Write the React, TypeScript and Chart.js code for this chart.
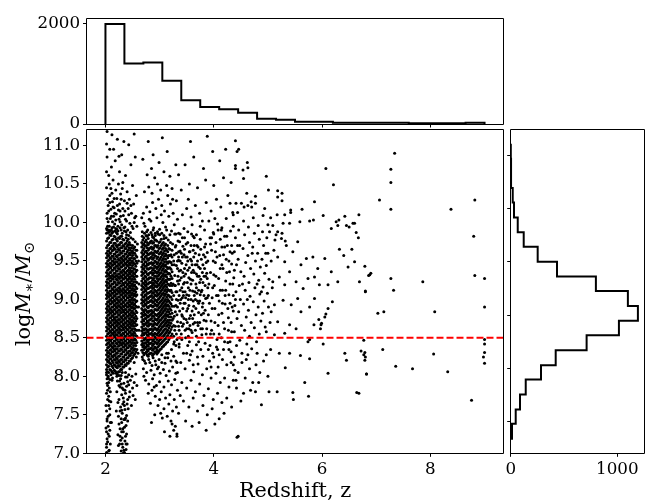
import React, { useEffect, useRef } from "react";
import { Chart, registerables } from "chart.js";
Chart.register(...registerables);

const FONT = "'DejaVu Serif', 'Liberation Serif', serif";

// ---------- axis settings ----------
const zLimits = [1.65, 9.35];
const massLimits = [7.0, 11.21];
const zTicks = [2, 4, 6, 8];
const massTicks = [7.0, 7.5, 8.0, 8.5, 9.0, 9.5, 10.0, 10.5, 11.0];
const massCut = 8.5;

// ---------- top histogram (redshift) ----------
const zHistEdges = [2.0, 2.35, 2.7, 3.05, 3.4, 3.75, 4.1, 4.45, 4.8, 5.15, 5.5, 5.85, 6.2, 6.55, 6.9, 7.25, 7.6, 7.95, 8.3, 8.65, 9.0];
const zHistCounts = [1990, 1205, 1225, 860, 470, 338, 292, 225, 106, 86, 46, 46, 26, 26, 26, 26, 13, 13, 13, 26];
const zHistTicks = [0, 2000];
const zHistMax = 2090;

// ---------- right histogram ----------
const rightHistEdges = [5.68, 5.96, 6.23, 6.51, 6.79, 7.06, 7.34, 7.62, 7.89, 8.17, 8.45, 8.72, 9.0, 9.28, 9.55, 9.83, 10.11, 10.38, 10.66, 10.93, 11.21];
const rightHistCounts = [12, 47, 87, 141, 284, 422, 712, 1015, 1193, 1099, 799, 434, 253, 122, 66, 31, 19, 4, 3, 2];
const rightHistLimits = [5.407, 11.482];
const rightHistTicks = [6, 7, 8, 9, 10, 11];
const rightCountTicks = [0, 1000];
const rightCountMax = 1253;

// ---------- scatter: dense columns [z, logM list] ----------
const blob1Columns: [number, number[]][] = [
  [2.02, [8.02,8.09,8.15,8.22,8.28,8.34,8.41,8.47,8.52,8.59,8.64,8.71,8.76,8.83,8.88,8.94,9.01,9.06,9.12,9.18,9.23,9.3,9.35,9.42,9.47,9.54,9.6,9.67,9.76,9.86]],
  [2.04, [8.06,8.12,8.19,8.25,8.31,8.37,8.43,8.5,8.55,8.62,8.68,8.74,8.79,8.86,8.91,8.97,9.04,9.09,9.15,9.21,9.26,9.33,9.38,9.45,9.5,9.57,9.63,9.7,9.79]],
  [2.06, [8.05,8.13,8.2,8.26,8.31,8.38,8.44,8.49,8.56,8.62,8.67,8.73,8.8,8.85,8.91,8.97,9.03,9.08,9.15,9.21,9.27,9.32,9.39,9.44,9.51,9.57,9.63,9.71,9.8,9.9]],
  [2.08, [8.09,8.17,8.23,8.29,8.34,8.41,8.47,8.52,8.59,8.65,8.7,8.76,8.83,8.88,8.94,9.0,9.06,9.11,9.18,9.24,9.3,9.35,9.42,9.47,9.54,9.6,9.66,9.74,9.84]],
  [2.1, [8.08,8.16,8.23,8.29,8.35,8.4,8.46,8.53,8.58,8.64,8.7,8.76,8.82,8.87,8.94,8.99,9.05,9.11,9.17,9.24,9.28,9.35,9.41,9.47,9.53,9.6,9.66,9.74,9.83]],
  [2.12, [8.06,8.13,8.2,8.26,8.32,8.38,8.43,8.49,8.56,8.61,8.67,8.73,8.79,8.85,8.9,8.97,9.02,9.08,9.14,9.2,9.27,9.31,9.38,9.44,9.5,9.56,9.63,9.69,9.77,9.86]],
  [2.14, [8.04,8.11,8.18,8.25,8.32,8.37,8.43,8.5,8.55,8.61,8.67,8.73,8.78,8.84,8.9,8.96,9.02,9.08,9.13,9.2,9.26,9.31,9.38,9.45,9.5,9.56,9.64,9.7,9.78,9.88]],
  [2.16, [8.08,8.15,8.22,8.28,8.35,8.4,8.46,8.53,8.58,8.64,8.7,8.76,8.81,8.87,8.93,8.99,9.05,9.11,9.16,9.23,9.29,9.34,9.41,9.48,9.53,9.59,9.67,9.73,9.82]],
  [2.18, [8.07,8.14,8.21,8.27,8.33,8.39,8.46,8.51,8.57,8.63,8.69,8.74,8.81,8.87,8.92,8.98,9.04,9.1,9.16,9.22,9.29,9.34,9.4,9.46,9.52,9.59,9.65,9.73,9.81]],
  [2.2, [8.05,8.12,8.18,8.24,8.3,8.36,8.43,8.49,8.54,8.6,8.66,8.72,8.77,8.84,8.9,8.95,9.01,9.07,9.13,9.19,9.26,9.31,9.37,9.43,9.49,9.56,9.62,9.7,9.78,9.87]],
  [2.22, [8.03,8.11,8.17,8.23,8.3,8.36,8.42,8.48,8.54,8.6,8.66,8.71,8.77,8.83,8.89,8.95,9.0,9.07,9.12,9.19,9.25,9.3,9.37,9.43,9.49,9.55,9.62,9.68,9.76,9.85]],
  [2.24, [8.06,8.14,8.2,8.26,8.33,8.39,8.45,8.51,8.57,8.63,8.69,8.74,8.8,8.86,8.92,8.98,9.03,9.1,9.15,9.22,9.28,9.33,9.4,9.46,9.52,9.58,9.65,9.71,9.8]],
  [2.26, [8.06,8.13,8.19,8.26,8.33,8.4,8.45,8.51,8.57,8.62,8.68,8.74,8.8,8.86,8.91,8.97,9.03,9.09,9.14,9.21,9.27,9.33,9.39,9.45,9.51,9.58,9.64,9.71,9.79]],
  [2.28, [8.09,8.16,8.22,8.29,8.36,8.43,8.48,8.54,8.6,8.65,8.71,8.77,8.83,8.89,8.94,9.0,9.06,9.12,9.17,9.24,9.3,9.36,9.42,9.48,9.54,9.61,9.67,9.74,9.82]],
  [2.3, [8.09,8.16,8.22,8.29,8.35,8.41,8.47,8.53,8.6,8.65,8.71,8.76,8.83,8.88,8.94,9.0,9.06,9.11,9.18,9.24,9.29,9.35,9.42,9.48,9.53,9.6,9.67,9.74,9.82]],
  [2.32, [8.12,8.19,8.25,8.32,8.38,8.44,8.5,8.56,8.63,8.68,8.74,8.79,8.86,8.91,8.97,9.03,9.09,9.14,9.21,9.27,9.32,9.38,9.45,9.51,9.56,9.63,9.7,9.78]],
  [2.34, [8.12,8.19,8.25,8.32,8.38,8.43,8.49,8.55,8.61,8.67,8.73,8.79,8.84,8.9,8.96,9.02,9.08,9.13,9.19,9.26,9.32,9.37,9.44,9.5,9.56,9.63,9.69,9.77]],
  [2.36, [8.15,8.22,8.28,8.35,8.41,8.46,8.52,8.58,8.64,8.7,8.76,8.82,8.87,8.93,8.99,9.05,9.11,9.16,9.22,9.29,9.35,9.4,9.47,9.53,9.59,9.66,9.72]],
  [2.38, [8.14,8.21,8.28,8.34,8.4,8.46,8.52,8.58,8.63,8.69,8.75,8.81,8.87,8.92,8.99,9.05,9.1,9.16,9.22,9.28,9.34,9.41,9.46,9.52,9.59,9.66,9.73,9.8]],
  [2.4, [8.17,8.24,8.31,8.37,8.43,8.49,8.55,8.61,8.66,8.72,8.78,8.84,8.9,8.95,9.02,9.08,9.13,9.19,9.25,9.31,9.37,9.44,9.49,9.55,9.62,9.69,9.76]],
  [2.42, [8.17,8.24,8.3,8.37,8.43,8.49,8.55,8.61,8.67,8.72,8.78,8.84,8.9,8.96,9.02,9.08,9.14,9.2,9.26,9.32,9.38,9.44,9.5,9.57,9.64,9.71,9.78]],
  [2.44, [8.2,8.27,8.33,8.4,8.46,8.52,8.58,8.64,8.7,8.75,8.81,8.87,8.93,8.99,9.05,9.11,9.17,9.23,9.29,9.35,9.41,9.47,9.53,9.6,9.67,9.74]],
  [2.46, [8.2,8.27,8.33,8.39,8.45,8.51,8.57,8.63,8.68,8.74,8.8,8.86,8.91,8.97,9.03,9.09,9.15,9.21,9.27,9.33,9.38,9.45,9.51,9.58,9.64,9.71]],
  [2.48, [8.23,8.3,8.36,8.42,8.48,8.54,8.6,8.66,8.71,8.77,8.83,8.89,8.94,9.0,9.06,9.12,9.18,9.24,9.3,9.36,9.41,9.48,9.54,9.61,9.67]],
  [2.5, [8.24,8.31,8.37,8.44,8.5,8.55,8.62,8.68,8.73,8.79,8.85,8.9,8.96,9.02,9.08,9.14,9.2,9.26,9.31,9.37,9.44,9.5,9.57,9.63,9.7]],
  [2.52, [8.27,8.34,8.4,8.47,8.53,8.58,8.65,8.71,8.76,8.82,8.88,8.93,8.99,9.05,9.11,9.17,9.23,9.29,9.34,9.4,9.47,9.53,9.6,9.66]],
  [2.54, [8.29,8.36,8.43,8.49,8.56,8.62,8.69,8.75,8.81,8.88,8.94,9.0,9.07,9.13,9.19,9.26,9.33,9.39,9.46,9.53,9.6,9.68]],
  [2.56, [8.32,8.4,8.47,8.53,8.6,8.66,8.72,8.78,8.85,8.91,8.97,9.04,9.1,9.16,9.23,9.3,9.36,9.43,9.5,9.57,9.64]],
  [2.58, [8.35,8.44,8.52,8.6,8.67,8.75,8.83,8.9,8.98,9.06,9.14,9.22,9.3,9.38,9.47,9.55,9.64]],
];

const blob2Columns: [number, number[]][] = [
  [2.67, [8.34,8.41,8.46,8.53,8.59,8.64,8.71,8.77,8.82,8.88,8.95,9.0,9.06,9.13,9.18,9.24,9.31,9.36,9.42,9.49,9.55,9.61,9.68,9.74]],
  [2.69, [8.31,8.38,8.43,8.5,8.56,8.62,8.68,8.74,8.8,8.86,8.92,8.98,9.03,9.09,9.16,9.21,9.27,9.33,9.39,9.45,9.52,9.58,9.64,9.71,9.77]],
  [2.71, [8.28,8.35,8.4,8.47,8.54,8.6,8.66,8.72,8.79,8.84,8.91,8.97,9.03,9.1,9.15,9.21,9.27,9.34,9.4,9.46,9.52,9.59,9.66,9.72,9.8]],
  [2.73, [8.3,8.37,8.43,8.49,8.56,8.62,8.68,8.75,8.81,8.87,8.94,9.0,9.06,9.13,9.19,9.24,9.3,9.37,9.43,9.49,9.55,9.62,9.69,9.75]],
  [2.75, [8.31,8.38,8.44,8.5,8.57,8.62,8.69,8.75,8.8,8.86,8.93,8.99,9.05,9.11,9.17,9.23,9.29,9.36,9.43,9.49,9.56,9.63,9.7,9.77]],
  [2.77, [8.28,8.35,8.41,8.47,8.54,8.6,8.66,8.72,8.78,8.84,8.9,8.96,9.02,9.08,9.14,9.2,9.26,9.33,9.4,9.46,9.53,9.6,9.67,9.74,9.82]],
  [2.79, [8.26,8.33,8.39,8.45,8.52,8.58,8.65,8.7,8.77,8.83,8.89,8.96,9.01,9.08,9.14,9.2,9.26,9.32,9.39,9.45,9.51,9.58,9.64,9.71,9.79]],
  [2.81, [8.29,8.36,8.42,8.48,8.55,8.61,8.67,8.73,8.79,8.85,8.91,8.97,9.03,9.09,9.15,9.22,9.28,9.34,9.4,9.47,9.53,9.59,9.66,9.73]],
  [2.83, [8.3,8.36,8.43,8.49,8.55,8.61,8.68,8.74,8.8,8.85,8.92,8.98,9.04,9.1,9.16,9.22,9.28,9.35,9.41,9.47,9.54,9.6,9.67,9.75]],
  [2.85, [8.3,8.37,8.43,8.49,8.56,8.62,8.68,8.75,8.81,8.86,8.92,8.99,9.05,9.11,9.17,9.22,9.28,9.35,9.41,9.48,9.55,9.61,9.68,9.76]],
  [2.87, [8.27,8.34,8.4,8.46,8.53,8.59,8.65,8.72,8.78,8.83,8.9,8.96,9.02,9.08,9.14,9.19,9.25,9.32,9.38,9.45,9.52,9.58,9.65,9.73,9.81]],
  [2.89, [8.29,8.36,8.42,8.48,8.54,8.61,8.67,8.72,8.78,8.84,8.91,8.97,9.03,9.09,9.15,9.21,9.27,9.34,9.4,9.47,9.54,9.6,9.67,9.74,9.8]],
  [2.91, [8.32,8.38,8.45,8.51,8.56,8.63,8.69,8.75,8.81,8.87,8.94,9.0,9.06,9.12,9.18,9.24,9.3,9.37,9.43,9.5,9.57,9.63,9.7,9.77]],
  [2.93, [8.31,8.37,8.44,8.5,8.55,8.62,8.68,8.74,8.8,8.87,8.93,8.99,9.05,9.11,9.17,9.23,9.3,9.36,9.42,9.49,9.56,9.62,9.7,9.77]],
  [2.95, [8.29,8.35,8.42,8.48,8.54,8.6,8.67,8.73,8.79,8.86,8.91,8.97,9.04,9.09,9.16,9.21,9.27,9.34,9.4,9.46,9.53,9.61,9.68,9.76]],
  [2.97, [8.31,8.38,8.44,8.5,8.56,8.62,8.69,8.75,8.81,8.87,8.93,9.0,9.06,9.12,9.18,9.24,9.3,9.36,9.42,9.48,9.55,9.63,9.7]],
  [2.99, [8.33,8.4,8.46,8.52,8.58,8.64,8.71,8.77,8.82,8.89,8.95,9.01,9.07,9.13,9.19,9.26,9.32,9.38,9.44,9.51,9.59,9.66,9.74]],
  [3.01, [8.35,8.42,8.48,8.54,8.6,8.66,8.73,8.79,8.84,8.9,8.97,9.03,9.09,9.15,9.21,9.27,9.34,9.4,9.46,9.53,9.6,9.67,9.75]],
  [3.03, [8.36,8.43,8.49,8.55,8.62,8.68,8.74,8.8,8.86,8.92,8.98,9.05,9.11,9.17,9.23,9.29,9.35,9.42,9.48,9.55,9.62,9.7,9.78]],
  [3.05, [8.38,8.45,8.51,8.57,8.64,8.7,8.76,8.82,8.88,8.94,9.0,9.07,9.13,9.19,9.25,9.31,9.38,9.44,9.51,9.58,9.65,9.72]],
  [3.07, [8.39,8.46,8.52,8.59,8.65,8.71,8.77,8.84,8.9,8.96,9.02,9.08,9.15,9.21,9.27,9.33,9.4,9.46,9.53,9.6,9.67,9.74]],
  [3.09, [8.41,8.48,8.54,8.61,8.67,8.73,8.79,8.86,8.92,8.98,9.05,9.11,9.17,9.23,9.3,9.36,9.43,9.49,9.56,9.63,9.7]],
  [3.11, [8.42,8.49,8.56,8.62,8.69,8.75,8.81,8.88,8.94,9.0,9.07,9.13,9.19,9.25,9.32,9.38,9.45,9.52,9.59,9.66,9.72]],
  [3.13, [8.44,8.51,8.58,8.65,8.71,8.78,8.84,8.91,8.97,9.03,9.1,9.16,9.23,9.29,9.36,9.42,9.49,9.57,9.64]],
  [3.15, [8.45,8.53,8.6,8.67,8.73,8.8,8.87,8.93,9.0,9.06,9.13,9.2,9.26,9.33,9.4,9.47,9.54,9.62,9.7]],
  [3.17, [8.48,8.56,8.63,8.7,8.77,8.84,8.91,8.98,9.05,9.12,9.19,9.26,9.34,9.41,9.49,9.57,9.66]],
  [3.19, [8.5,8.58,8.66,8.73,8.81,8.88,8.96,9.03,9.11,9.18,9.26,9.33,9.41,9.49,9.57,9.65]],
  [3.21, [8.52,8.61,8.69,8.77,8.86,8.94,9.03,9.12,9.21,9.3,9.39,9.48,9.58]],
  [3.23, [8.55,8.64,8.73,8.82,8.91,9.0,9.09,9.18,9.27,9.36,9.45,9.55,9.64]],
];

// ---------- scatter: individual points [z, logM] ----------
const blobEdges: [number, number][] = [
  [2.03,9.9],[2.07,9.88],[2.11,9.9],[2.15,9.94],[2.19,9.92],[2.23,9.89],[2.27,9.93],[2.31,9.86],[2.35,9.89],[2.39,9.84],
  [2.43,9.83],[2.47,9.8],[2.51,9.78],[2.55,9.75],[2.59,9.72],[2.61,9.5],[2.62,9.2],[2.61,8.9],[2.62,8.6],[2.6,8.3],
  [2.68,9.82],[2.72,9.86],[2.76,9.88],[2.8,9.84],[2.84,9.87],[2.88,9.9],[2.92,9.83],[2.96,9.88],[3.0,9.84],[3.04,9.86],
  [3.08,9.79],[3.12,9.8],[3.16,9.77],[3.2,9.74],[3.24,9.72],
  [2.69,8.22],[2.74,8.17],[2.8,8.22],[2.86,8.14],[2.92,8.2],[2.98,8.12],[3.04,8.18],[3.1,8.24],[3.16,8.3],[3.22,8.35],
  [3.26,8.42],[2.05,8.0],[2.13,7.98],[2.21,8.0],[2.29,8.01],[2.37,8.05],[2.45,8.1],[2.53,8.18],[2.57,8.25],
];

const blob1Upper: [number, number][] = [
  [2.02,9.92],[2.05,10.01],[2.07,9.95],[2.03,10.12],[2.09,10.05],[2.12,9.93],[2.15,10.08],[2.05,10.22],[2.1,10.17],[2.17,9.98],
  [2.2,10.11],[2.13,10.27],[2.23,9.95],[2.25,10.04],[2.08,10.35],[2.16,10.31],[2.02,10.45],[2.19,10.42],[2.27,10.15],[2.3,9.97],
  [2.33,10.09],[2.36,9.94],[2.39,10.02],[2.42,10.18],[2.35,10.28],[2.28,10.37],[2.24,10.5],[2.14,10.55],[2.06,10.61],[2.11,10.72],
  [2.03,10.85],[2.02,11.02],[2.08,10.95],[2.18,10.8],[2.26,10.66],[2.32,10.52],[2.4,10.4],[2.45,9.99],[2.48,10.12],[2.51,9.92],
  [2.54,10.06],[2.44,10.3],[2.52,10.24],[2.57,10.35],[2.37,10.61],[2.47,10.75],[2.3,10.88],[2.22,11.08],[2.12,11.14],[2.55,10.85],
  [2.43,11.01],[2.53,11.15],[2.04,10.3],[2.16,10.19],[2.21,10.31],[2.26,10.24],[2.31,10.44],[2.1,10.44],[2.02,10.66],[2.15,10.95],
  [2.36,10.15],[2.41,9.9],[2.5,10.48],[2.05,9.87],[2.18,9.89],[2.29,9.9],[2.07,10.5],[2.25,10.86],[2.34,11.05],[2.56,10.08],
  [2.21,9.91],[2.38,9.88],[2.46,9.87],[2.09,9.89],[2.13,10.01],[2.27,10.01],[2.34,9.93],[2.58,9.95],[2.03,11.18],
  [2.03,10.05],[2.06,10.15],[2.11,10.08],[2.14,10.2],[2.19,10.03],[2.22,10.22],[2.28,10.08],[2.32,10.18],[2.37,10.04],[2.43,10.1],
  [2.47,10.22],[2.53,10.0],[2.04,9.95],[2.08,10.26],[2.12,10.38],[2.17,10.12],[2.24,10.16],[2.29,10.3],[2.4,10.25],[2.49,9.95],
];

const blob1LowerLeft: [number, number][] = [
  [2.02,8.05],[2.05,7.98],[2.03,7.91],[2.07,7.85],[2.02,7.78],[2.09,7.8],[2.04,7.7],[2.06,7.62],[2.02,7.55],[2.08,7.5],
  [2.03,7.42],[2.05,7.35],[2.02,7.28],[2.07,7.22],[2.04,7.15],[2.02,7.08],[2.06,7.03],[2.09,7.12],[2.11,7.4],[2.1,7.67],
  [2.12,7.95],[2.01,7.33],[2.03,7.19],[2.05,7.48],[2.07,7.04],[2.01,7.62],[2.04,7.88],[2.1,8.02],[2.08,7.3],[2.02,7.01],
  [2.06,7.74],[2.03,7.97],[2.08,7.58],[2.03,7.45],[2.05,7.25],[2.07,7.68],[2.04,7.82],[2.02,7.12],[2.06,7.92],[2.09,7.4],
  [2.08,7.96],
];

const blob1LowerRight: [number, number][] = [
  [2.19,8.04],[2.25,8.01],[2.31,8.05],[2.37,7.99],[2.43,8.02],[2.22,7.94],[2.28,7.97],[2.34,7.91],[2.41,7.93],[2.27,7.86],
  [2.33,7.83],[2.39,7.87],[2.21,7.8],[2.3,7.76],[2.37,7.78],[2.44,7.73],[2.25,7.7],[2.34,7.67],[2.4,7.64],[2.28,7.6],
  [2.36,7.57],[2.31,7.52],[2.39,7.49],[2.24,7.48],[2.34,7.44],[2.3,7.4],[2.38,7.36],[2.27,7.32],[2.33,7.28],[2.39,7.25],
  [2.31,7.2],[2.36,7.16],[2.26,7.12],[2.32,7.08],[2.38,7.05],[2.29,7.03],[2.35,7.01],[2.23,7.24],[2.41,7.42],[2.45,7.8],
  [2.46,7.95],[2.2,7.55],[2.37,7.46],[2.32,7.64],[2.29,7.9],[2.42,7.58],[2.35,7.34],[2.28,7.17],[2.4,7.12],[2.25,7.38],
  [2.31,7.12],[2.37,7.22],[2.33,7.72],[2.26,7.94],[2.4,7.99],[2.23,7.66],[2.36,7.82],[2.3,7.56],[2.34,7.04],[2.49,8.0],
  [2.53,7.92],[2.51,7.75],[2.48,7.62],[2.56,8.03],[2.5,7.85],[2.55,7.7],[2.58,7.88],
  [2.24,7.1],[2.27,7.22],[2.29,7.45],[2.32,7.32],[2.35,7.62],[2.38,7.12],[2.31,7.85],[2.41,7.7],[2.27,7.55],[2.36,7.44],
  [2.43,7.89],[2.25,7.88],[2.33,7.0],[2.3,7.28],
];

const blob2Upper: [number, number][] = [
  [2.68,9.88],[2.73,9.95],[2.78,9.9],[2.84,10.02],[2.89,9.93],[2.95,10.06],[3.0,9.91],[3.06,10.0],[3.11,9.94],[3.17,10.08],
  [3.22,9.89],[3.27,9.97],[3.33,10.04],[2.7,10.12],[2.76,10.2],[2.82,10.14],[2.87,10.26],[2.93,10.18],[2.98,10.3],[3.04,10.22],
  [3.09,10.15],[3.15,10.35],[3.2,10.24],[3.25,10.12],[3.31,10.28],[2.72,10.4],[2.8,10.46],[2.86,10.38],[2.96,10.5],[3.02,10.42],
  [3.13,10.48],[3.23,10.44],[2.77,10.62],[2.85,10.7],[2.91,10.58],[3.08,10.66],[3.19,10.6],[2.69,10.82],[2.88,10.88],[2.99,10.78],
  [3.14,10.92],[2.79,11.05],[3.05,11.1],[3.3,10.75],[2.75,9.83],[2.97,9.85],[3.19,9.84],[2.81,10.04],[3.03,10.1],[3.24,10.3],
  [3.35,9.86],[2.71,9.99],[2.92,9.86],[3.13,9.9],[2.86,9.84],[3.08,9.83],[2.67,10.06],
];

const blob2Lower: [number, number][] = [
  [2.68,8.25],[2.72,8.2],[2.78,8.27],[2.82,8.18],[2.88,8.24],[2.93,8.15],[2.99,8.22],[3.04,8.28],[3.1,8.17],[3.15,8.24],
  [3.21,8.2],[3.26,8.26],[3.32,8.18],[2.7,8.1],[2.76,8.05],[2.84,8.08],[2.9,8.02],[2.96,8.1],[3.01,8.04],[3.07,8.09],
  [3.12,8.01],[3.18,8.07],[3.24,8.12],[3.3,8.04],[2.74,7.95],[2.8,7.9],[2.87,7.97],[2.94,7.88],[3.0,7.93],[3.08,7.86],
  [3.16,7.94],[3.22,7.89],[3.28,7.96],[2.79,7.78],[2.86,7.82],[2.92,7.74],[3.03,7.8],[3.11,7.72],[3.19,7.76],[3.27,7.7],
  [2.83,7.65],[2.97,7.62],[3.08,7.58],[3.17,7.64],[3.24,7.55],[3.31,7.6],[2.91,7.5],[3.05,7.46],[3.21,7.42],[3.29,7.35],
  [3.26,7.3],[3.14,7.48],[2.9,7.86],[3.0,7.7],[2.71,8.0],[3.33,7.82],[3.02,7.52],[3.23,7.38],[3.32,7.22],[3.32,7.25],
  [2.76,8.32],[2.95,8.33],[3.13,8.3],[2.85,7.4],[3.09,7.28],
];

const midCore: [number, number][] = [
  [3.26,8.52],[3.27,8.78],[3.26,9.05],[3.28,9.31],[3.27,9.58],[3.29,8.65],[3.3,8.92],[3.29,9.18],[3.31,9.44],[3.3,9.7],
  [3.32,8.48],[3.33,8.71],[3.34,8.99],[3.33,9.24],[3.35,9.51],[3.34,9.76],[3.36,8.6],[3.37,8.85],[3.38,9.12],[3.36,9.37],[3.38,9.63],
  [3.4,8.55],[3.41,8.8],[3.42,9.02],[3.4,9.28],[3.41,9.47],[3.43,9.69],[3.44,8.68],[3.45,8.95],[3.44,9.2],[3.46,9.4],[3.45,9.58],
  [3.48,8.5],[3.49,8.74],[3.5,9.06],[3.48,9.33],[3.51,9.55],[3.52,8.88],[3.53,9.15],[3.52,9.74],[3.54,8.62],[3.55,9.41],
  [3.57,8.79],[3.58,9.0],[3.57,9.26],[3.59,9.5],[3.6,8.57],[3.61,9.11],[3.62,9.64],[3.63,8.91],[3.64,9.35],[3.65,8.7],
  [3.67,9.2],[3.68,8.52],[3.69,9.45],[3.7,8.98],[3.71,9.68],[3.72,8.83],[3.73,9.3],[3.75,9.06],[3.76,8.62],[3.77,9.52],
  [3.79,8.9],[3.8,9.22],[3.82,8.73],[3.83,9.4],[3.85,9.01],[3.86,8.55],[3.88,9.61],[3.89,9.15],[3.9,8.8],[3.87,9.34],
  [3.28,8.6],[3.31,9.0],[3.35,9.62],[3.39,8.7],[3.43,9.35],[3.47,9.1],[3.5,8.62],[3.54,9.28],[3.56,9.62],[3.6,8.85],
  [3.63,9.55],[3.66,9.0],[3.7,9.3],[3.74,8.7],[3.78,9.12],[3.81,9.58],[3.84,8.86],[3.88,9.27],[3.27,9.45],[3.32,9.1],
  [3.37,9.25],[3.42,8.65],[3.46,9.65],[3.51,9.22],[3.55,8.75],[3.59,9.35],[3.62,8.68],[3.66,9.6],[3.69,9.08],[3.73,9.58],
  [3.77,8.8],[3.8,9.45],[3.84,9.18],[3.29,8.84],[3.33,9.4],[3.38,9.5],[3.43,8.88],[3.47,8.95],[3.53,8.52],[3.58,9.7],
  [3.61,9.25],[3.65,9.1],[3.72,9.12],[3.75,9.4],[3.79,8.62],[3.86,9.48],[3.9,9.05],[3.36,9.05],[3.41,9.15],[3.49,9.45],
  [3.53,9.0],[3.57,9.52],[3.64,8.8],[3.68,9.33],[3.71,8.66],[3.76,9.26],[3.82,9.05],[3.85,9.72],
  [3.26,8.66],[3.27,8.91],[3.28,9.18],[3.29,9.68],[3.31,8.55],[3.32,8.8],[3.34,9.3],[3.35,9.55],[3.37,8.5],[3.39,9.0],
  [3.4,9.6],[3.42,8.78],[3.44,9.05],[3.45,9.3],[3.47,8.6],[3.48,9.55],[3.5,8.85],[3.52,9.38],[3.54,9.05],[3.56,8.66],
  [3.58,9.2],[3.6,9.45],[3.62,8.98],[3.64,9.7],[3.66,8.6],[3.68,9.15],[3.7,9.5],[3.72,8.95],[3.74,9.22],[3.76,9.65],
  [3.78,8.54],[3.8,8.95],[3.82,9.3],[3.84,9.55],[3.86,8.72],[3.88,9.02],[3.3,9.85],[3.46,9.8],[3.62,9.82],[3.36,8.42],
  [3.55,8.45],[3.72,8.45],[3.42,9.8],
];

const midExtra: [number, number][] = [
  [3.25,8.75],[3.25,9.2],[3.26,9.5],[3.27,8.45],[3.28,9.85],[3.3,8.4],[3.3,9.1],[3.31,9.6],[3.33,8.9],[3.33,9.5],
  [3.35,8.65],[3.35,9.2],[3.37,9.75],[3.38,8.95],[3.39,9.38],[3.41,8.48],[3.42,9.55],[3.43,9.1],[3.45,8.75],[3.46,9.22],
  [3.48,9.02],[3.49,9.72],[3.51,8.7],[3.52,9.5],[3.54,8.92],[3.55,9.62],[3.56,9.12],[3.58,8.6],[3.59,9.85],[3.61,8.75],
  [3.62,9.38],[3.64,9.05],[3.66,9.45],[3.67,8.88],[3.69,9.7],[3.7,8.7],[3.72,9.42],[3.74,8.98],[3.75,9.78],[3.77,9.1],
  [3.79,9.35],[3.81,8.82],[3.83,9.68],[3.85,9.3],[3.87,8.62],[3.89,9.5],[3.91,9.2],[3.92,8.95],[3.94,9.72],[3.96,8.6],
  [3.98,9.15],[4.0,9.85],[4.02,8.7],[4.04,9.3],[4.06,9.55],[4.08,9.05],[4.1,8.55],[4.12,9.4],[4.14,9.9],[4.16,8.95],
  [4.18,9.58],[4.2,8.45],[4.22,9.12],[4.24,9.82],[4.26,8.88],[4.28,9.5],[4.3,9.2],[4.32,8.7],[4.34,9.6],[4.36,8.85],
  [4.38,9.38],[4.4,9.0],[3.3,8.2],[3.5,8.3],[3.7,8.25],[3.9,8.35],[4.1,8.28],[4.3,8.45],[3.62,8.15],[3.95,8.12],
];

const midUpper: [number, number][] = [
  [3.38,9.85],[3.45,9.92],[3.52,9.88],[3.6,9.97],[3.68,9.84],[3.75,9.95],[3.83,9.9],[3.91,10.02],[3.99,9.87],[4.07,9.98],
  [4.15,9.93],[4.23,10.05],[4.31,9.89],[3.42,10.1],[3.5,10.18],[3.58,10.07],[3.66,10.22],[3.74,10.12],[3.86,10.26],[3.95,10.15],
  [4.05,10.3],[4.13,10.2],[4.26,10.35],[4.36,10.1],[3.4,10.42],[3.55,10.5],[3.7,10.45],[3.85,10.55],[4.0,10.48],[4.18,10.58],
  [4.32,10.52],[3.47,10.75],[3.63,10.85],[3.81,10.7],[3.98,10.92],[4.11,10.8],[3.57,11.05],[3.88,11.12],[4.22,10.95],[3.35,10.62],
  [4.4,10.7],[3.64,9.8],[3.93,9.8],[4.2,9.82],[3.79,10.02],[4.02,10.05],[3.53,10.3],[4.3,10.25],
];

const midRight: [number, number][] = [
  [3.93,8.4],[3.95,8.72],[3.97,9.02],[3.94,9.35],[3.96,9.64],[4.0,8.55],[4.02,8.88],[4.01,9.18],[4.03,9.48],[4.04,9.74],
  [4.07,8.35],[4.08,8.66],[4.1,8.98],[4.09,9.27],[4.11,9.57],[4.14,8.5],[4.15,8.82],[4.16,9.12],[4.17,9.4],[4.15,9.68],
  [4.2,8.62],[4.21,8.94],[4.22,9.24],[4.23,9.52],[4.26,8.44],[4.27,8.76],[4.28,9.06],[4.29,9.36],[4.3,9.62],[4.33,8.58],
  [4.34,8.9],[4.35,9.2],[4.33,9.46],[3.98,8.3],[4.05,9.05],[4.12,9.78],[4.18,8.35],[4.25,9.7],[4.32,8.32],[3.99,9.5],
  [3.94,8.55],[3.97,8.88],[4.0,9.32],[4.03,9.62],[4.06,8.48],[4.09,8.8],[4.12,9.12],[4.15,9.45],[4.18,8.7],[4.21,9.05],
  [4.24,9.35],[4.27,8.6],[4.3,8.95],[4.33,9.7],[4.36,9.05],[3.96,9.8],[4.08,9.9],[4.2,9.68],
];

const midLower: [number, number][] = [
  [3.36,8.38],[3.44,8.3],[3.52,8.4],[3.6,8.33],[3.68,8.41],[3.76,8.35],[3.84,8.43],[3.92,8.2],[4.0,8.25],[4.08,8.12],
  [4.16,8.22],[4.24,8.15],[4.32,8.18],[4.39,8.08],[3.39,8.18],[3.47,8.1],[3.55,8.21],[3.63,8.06],[3.71,8.16],[3.79,8.02],
  [3.87,8.1],[3.95,7.98],[4.04,8.04],[4.12,7.92],[4.2,7.98],[4.28,7.86],[4.36,7.95],[3.41,7.92],[3.5,7.85],[3.58,7.95],
  [3.66,7.8],[3.74,7.9],[3.82,7.75],[3.9,7.84],[3.99,7.7],[4.07,7.78],[4.15,7.66],[4.24,7.72],[4.33,7.6],[3.44,7.68],
  [3.54,7.6],[3.62,7.72],[3.7,7.55],[3.8,7.62],[3.88,7.5],[3.97,7.58],[4.1,7.45],[4.19,7.52],[3.48,7.42],[3.6,7.35],
  [3.73,7.4],[3.86,7.3],[4.02,7.38],[3.57,8.28],[3.8,8.26],[4.05,8.38],[4.28,8.35],[3.33,8.05],[3.38,7.75],[3.35,7.52],
  [3.19,7.22],[4.45,7.22],
];

const zoneFourToFive: [number, number][] = [
  [4.4,11.06],[4.46,10.95],[4.43,10.92],[4.4,10.74],[4.62,10.78],[4.63,10.71],[4.54,10.68],[4.55,10.57],[4.97,10.6],
  [4.61,10.38],[4.77,10.34],[4.69,10.27],[4.51,10.25],[4.41,10.25],[4.77,10.25],[4.63,10.22],[4.56,10.2],[4.7,10.2],
  [4.44,10.13],[4.35,10.13],[4.94,10.18],[4.91,10.09],[5.01,10.42],[5.05,10.06],[5.0,9.97],
  [4.36,9.95],[4.4,9.8],[4.38,9.62],[4.42,9.45],[4.37,9.28],[4.41,9.1],[4.39,8.92],[4.43,8.75],[4.38,8.58],[4.42,8.4],
  [4.46,9.9],[4.48,9.7],[4.45,9.52],[4.5,9.36],[4.47,9.18],[4.49,9.0],[4.46,8.84],[4.51,8.66],[4.48,8.47],[4.52,8.3],
  [4.55,10.02],[4.57,9.84],[4.54,9.66],[4.59,9.48],[4.56,9.3],[4.58,9.12],[4.55,8.94],[4.6,8.77],[4.57,8.6],[4.61,8.42],
  [4.64,9.94],[4.66,9.74],[4.63,9.57],[4.68,9.4],[4.65,9.22],[4.67,9.04],[4.64,8.86],[4.69,8.7],[4.66,8.52],[4.7,8.36],
  [4.73,10.06],[4.75,9.86],[4.72,9.68],[4.77,9.5],[4.74,9.33],[4.76,9.15],[4.73,8.97],[4.78,8.8],[4.75,8.63],[4.79,8.45],
  [4.82,9.96],[4.84,9.78],[4.81,9.6],[4.86,9.42],[4.83,9.25],[4.85,9.07],[4.82,8.9],[4.87,8.72],[4.84,8.55],
  [4.9,9.88],[4.92,9.7],[4.89,9.52],[4.94,9.34],[4.91,9.16],[4.93,8.98],[4.9,8.82],[4.95,8.64],
  [4.98,9.8],[5.0,9.6],[4.97,9.44],[5.02,9.26],[4.99,9.08],[5.01,8.9],[5.04,8.7],[5.06,9.5],[5.08,9.15],[5.03,9.88],
  [4.44,9.7],[4.53,9.2],[4.62,9.0],[4.71,9.6],[4.8,9.2],[4.88,9.1],[4.96,9.6],[4.6,8.22],[4.8,8.3],[4.38,8.25],
  [4.36,8.15],[4.45,8.05],[4.52,8.18],[4.58,7.98],[4.66,8.1],[4.72,7.92],[4.78,8.15],[4.85,8.05],[4.92,8.2],[5.0,8.0],
  [4.42,7.85],[4.55,7.78],[4.68,7.82],[4.77,7.8],[4.88,7.63],[4.5,7.68],[4.41,7.95],[4.63,8.28],[4.83,7.92],[4.97,8.28],
  [5.05,8.35],[4.43,7.21],
];

const zoneFiveToSeven: [number, number][] = [
  [6.07,10.7],[6.21,10.49],[5.18,10.41],[5.26,10.38],[5.18,10.33],[5.26,10.28],[5.86,10.27],[5.63,10.17],[5.42,10.16],[5.42,10.13],
  [5.17,10.1],[5.31,10.1],[6.02,10.09],[6.42,10.08],[6.68,10.1],[5.77,10.02],[5.84,10.03],[6.26,10.01],[6.31,10.03],[6.5,9.94],
  [6.6,9.99],[5.59,10.01],[5.28,9.99],[5.4,9.99],[5.18,9.88],[5.26,9.86],[5.13,9.77],[5.32,9.76],
  [6.29,9.96],[6.45,9.96],[6.57,9.99],[6.17,9.92],[6.32,9.65],[6.4,9.57],[6.63,9.87],[6.67,9.8],[6.55,9.65],[6.48,9.42],
  [6.6,9.49],[6.69,9.23],[6.8,9.11],[6.88,9.32],
  [5.21,8.3],[5.4,8.3],[5.6,8.27],[5.77,8.23],[5.32,8.11],[5.68,7.92],[6.11,8.04],[6.42,8.3],[6.45,8.21],[6.64,7.79],
  [6.68,7.78],[6.82,8.03],[6.77,8.28],[5.75,7.74],[5.46,7.79],[5.47,7.7],[5.17,7.8],[5.02,7.8],
  [5.98,8.67],[5.97,8.62],[6.02,8.42],[5.94,8.74],[6.07,8.81],[6.11,8.88],[5.74,8.45],[5.77,8.48],
  [5.09,9.96],[5.15,9.84],[5.25,9.79],[5.34,9.7],[5.11,9.64],[5.18,9.55],[5.31,9.49],[5.46,9.62],[5.55,9.75],[5.61,9.45],
  [5.4,9.36],[5.21,9.29],[5.09,9.23],[5.31,9.19],[5.52,9.23],[5.65,9.14],[5.74,9.27],[5.86,9.29],[5.95,9.19],[5.77,8.9],
  [5.85,8.67],[5.99,8.69],[6.05,8.77],[5.55,9.01],[5.43,8.93],[5.28,8.99],[5.12,8.93],[5.06,8.84],[5.18,8.71],[5.4,8.67],
  [5.61,8.84],[5.52,8.62],[5.31,8.56],[5.12,8.54],[4.97,8.58],[5.86,9.01],[6.11,9.19],[6.19,8.97],[5.92,9.4],[5.83,9.55],
  [6.05,9.53],[5.71,9.53],[6.17,9.36],[6.29,9.23],
];

const zoneSevenToNine: [number, number][] = [
  [7.34,10.9],[7.27,10.69],[7.27,10.52],[7.06,10.29],[7.27,10.17],[8.38,10.17],[8.82,10.29],[8.8,9.82],[6.79,9.43],[6.86,9.31],
  [6.9,9.34],[7.27,9.27],[6.8,9.1],[7.32,9.12],[7.86,9.23],[8.82,9.31],[9.0,9.27],[9.0,8.9],[7.03,8.82],[7.14,8.84],
  [8.08,8.84],[6.77,8.47],[9.0,8.48],[9.0,8.42],[6.72,8.33],[6.79,8.31],[6.8,8.25],[6.79,8.21],[7.12,8.35],[8.06,8.29],
  [9.0,8.31],[8.98,8.25],[9.0,8.17],[7.36,8.13],[7.67,8.1],[8.32,8.06],[6.82,8.03],[8.76,7.69],
];

// ---------- text ----------
const xTitle = "Redshift, z";
const yTitleParts = [
  { text: "log", style: "normal", sub: false },
  { text: "M", style: "italic", sub: false },
  { text: "\u2217", style: "normal", sub: true },
  { text: "/", style: "normal", sub: false },
  { text: "M", style: "italic", sub: false },
  { text: "\u2299", style: "normal", sub: true },
];

// ---------- layout (pixel boxes) ----------
const W = 655, H = 502;
const MAIN_AREA = { left: 86.5, top: 129.3, right: 503.5, bottom: 453.3 };
const TOP_AREA = { left: 86.5, top: 18.9, right: 503.5, bottom: 124 };
const RIGHT_AREA = { left: 510.7, top: 129.3, right: 644.3, bottom: 453.3 };
const TICK_FONT = { family: FONT, size: 16.7, lineHeight: 1.2 };

function snap(v: number) { return Math.floor(v) + 0.5; }

const framePlugin = {
  id: "frame",
  afterDraw(chart: any) {
    const { left, top, right, bottom } = chart.chartArea;
    const ctx = chart.ctx;
    ctx.save();
    ctx.strokeStyle = "#000";
    ctx.lineWidth = 1;
    ctx.beginPath();
    const l = snap(left), t = snap(top), r = snap(right), b = snap(bottom);
    ctx.rect(l, t, r - l, b - t);
    ctx.stroke();
    ctx.restore();
  },
};

const yLabelPlugin = {
  id: "ylabel",
  afterDraw(chart: any) {
    const ctx = chart.ctx;
    const size = 20.8;
    const subSize = size * 0.7;
    ctx.save();
    const widths = yTitleParts.map((p) => {
      ctx.font = `${p.style} ${p.sub ? subSize : size}px ${FONT}`;
      return ctx.measureText(p.text).width;
    });
    const total = widths.reduce((a, b) => a + b, 0);
    ctx.translate(29.5, 294);
    ctx.rotate(-Math.PI / 2);
    ctx.fillStyle = "#000";
    ctx.textBaseline = "alphabetic";
    let x = -total / 2;
    yTitleParts.forEach((p, i) => {
      ctx.font = `${p.style} ${p.sub ? subSize : size}px ${FONT}`;
      ctx.fillText(p.text, x, p.sub ? size * 0.22 : 0);
      x += widths[i];
    });
    ctx.restore();
  },
};

function fixedTicks(values: number[]) {
  return (scale: any) => { scale.ticks = values.map((v) => ({ value: v })); };
}

function padFor(area: any, yW: number, xH: number) {
  return { left: area.left - yW, top: area.top, right: W - area.right, bottom: H - area.bottom - xH };
}

function stepOutline(edges: number[], counts: number[], horizontal: boolean) {
  const pts: { x: number; y: number }[] = [];
  const push = (e: number, c: number) => pts.push(horizontal ? { x: c, y: e } : { x: e, y: c });
  push(edges[0], 0);
  counts.forEach((c, i) => { push(edges[i], c); push(edges[i + 1], c); });
  push(edges[edges.length - 1], 0);
  return pts;
}

function gridOpts() {
  return { display: true, drawOnChartArea: false, drawTicks: true, tickLength: 3.5, color: "#000", lineWidth: 1 };
}

function buildMain(canvas: HTMLCanvasElement) {
  const pts: { x: number; y: number }[] = [];
  for (const cols of [blob1Columns, blob2Columns]) {
    for (const [z, masses] of cols) for (const m of masses) pts.push({ x: z, y: m });
  }
  for (const arr of [blobEdges, blob1Upper, blob1LowerLeft, blob1LowerRight, blob2Upper, blob2Lower, midCore, midExtra, midUpper, midRight, midLower, zoneFourToFive, zoneFiveToSeven, zoneSevenToNine]) {
    for (const [z, m] of arr) pts.push({ x: z, y: m });
  }
  const yW = 60, xH = 48.7;
  return new Chart(canvas, {
    type: "scatter",
    data: {
      datasets: [
        {
          data: [{ x: zLimits[0], y: massCut }, { x: zLimits[1], y: massCut }],
          showLine: true, borderColor: "#ff0000", borderWidth: 2, borderDash: [7, 3],
          pointRadius: 0, fill: false,
        },
        {
          data: pts, pointRadius: 1.5, pointBackgroundColor: "#000", pointBorderWidth: 0,
          backgroundColor: "#000", borderWidth: 0,
        },
      ],
    },
    options: {
      responsive: false, animation: false, events: [],
      layout: { padding: padFor(MAIN_AREA, yW, xH) },
      plugins: { legend: { display: false }, tooltip: { enabled: false } },
      scales: {
        x: {
          type: "linear", min: zLimits[0], max: zLimits[1],
          afterBuildTicks: fixedTicks(zTicks),
          afterFit: (s: any) => { s.height = xH; },
          grid: gridOpts(), border: { display: false },
          ticks: { color: "#000", font: TICK_FONT, padding: 3, maxRotation: 0, callback: (v: any) => String(v) },
          title: { display: true, text: xTitle, color: "#000", font: { family: FONT, size: 20.8, lineHeight: 1 }, padding: { top: 0, bottom: 0 } },
        },
        y: {
          type: "linear", min: massLimits[0], max: massLimits[1],
          afterBuildTicks: fixedTicks(massTicks),
          afterFit: (s: any) => { s.width = yW; },
          grid: gridOpts(), border: { display: false },
          ticks: { color: "#000", font: TICK_FONT, padding: 3, callback: (v: any) => Number(v).toFixed(1) },
        },
      },
    },
    plugins: [framePlugin, yLabelPlugin],
  } as any);
}

function buildTop(canvas: HTMLCanvasElement) {
  const yW = 60, xH = 5;
  return new Chart(canvas, {
    type: "scatter",
    data: {
      datasets: [{
        data: stepOutline(zHistEdges, zHistCounts, false), showLine: true,
        borderColor: "#000", borderWidth: 2, pointRadius: 0, fill: false,
        borderJoinStyle: "miter", borderCapStyle: "butt",
      }],
    },
    options: {
      responsive: false, animation: false, events: [],
      layout: { padding: padFor(TOP_AREA, yW, xH) },
      plugins: { legend: { display: false }, tooltip: { enabled: false } },
      scales: {
        x: {
          type: "linear", min: zLimits[0], max: zLimits[1],
          afterBuildTicks: fixedTicks(zTicks),
          afterFit: (s: any) => { s.height = xH; },
          grid: gridOpts(), border: { display: false },
          ticks: { display: false },
        },
        y: {
          type: "linear", min: 0, max: zHistMax,
          afterBuildTicks: fixedTicks(zHistTicks),
          afterFit: (s: any) => { s.width = yW; },
          grid: gridOpts(), border: { display: false },
          ticks: { color: "#000", font: TICK_FONT, padding: 3, callback: (v: any) => String(v) },
        },
      },
    },
    plugins: [framePlugin],
  } as any);
}

function buildRight(canvas: HTMLCanvasElement) {
  const yW = 10, xH = 30;
  return new Chart(canvas, {
    type: "scatter",
    data: {
      datasets: [{
        data: stepOutline(rightHistEdges, rightHistCounts, true), showLine: true,
        borderColor: "#000", borderWidth: 2, pointRadius: 0, fill: false,
        borderJoinStyle: "miter", borderCapStyle: "butt",
      }],
    },
    options: {
      responsive: false, animation: false, events: [],
      layout: { padding: padFor(RIGHT_AREA, yW, xH) },
      plugins: { legend: { display: false }, tooltip: { enabled: false } },
      scales: {
        x: {
          type: "linear", min: 0, max: rightCountMax,
          afterBuildTicks: fixedTicks(rightCountTicks),
          afterFit: (s: any) => { s.height = xH; },
          grid: gridOpts(), border: { display: false },
          ticks: { color: "#000", font: TICK_FONT, padding: 3, maxRotation: 0, callback: (v: any) => String(v) },
        },
        y: {
          type: "linear", min: rightHistLimits[0], max: rightHistLimits[1],
          afterBuildTicks: fixedTicks(rightHistTicks),
          afterFit: (s: any) => { s.width = yW; },
          grid: gridOpts(), border: { display: false },
          ticks: { display: false },
        },
      },
    },
    plugins: [framePlugin],
  } as any);
}

export default function App() {
  const mainRef = useRef<HTMLCanvasElement>(null);
  const topRef = useRef<HTMLCanvasElement>(null);
  const rightRef = useRef<HTMLCanvasElement>(null);

  useEffect(() => {
    const charts: Chart[] = [];
    if (mainRef.current) charts.push(buildMain(mainRef.current));
    if (topRef.current) charts.push(buildTop(topRef.current));
    if (rightRef.current) charts.push(buildRight(rightRef.current));
    return () => { charts.forEach((c) => c.destroy()); };
  }, []);

  const cs: React.CSSProperties = { position: "absolute", left: 0, top: 0, width: W, height: H };
  return (
    <div style={{ position: "absolute", left: 0, top: 0, width: W, height: H, background: "#fff" }}>
      <canvas ref={topRef} width={W} height={H} style={cs} />
      <canvas ref={rightRef} width={W} height={H} style={cs} />
      <canvas ref={mainRef} width={W} height={H} style={cs} />
    </div>
  );
}
